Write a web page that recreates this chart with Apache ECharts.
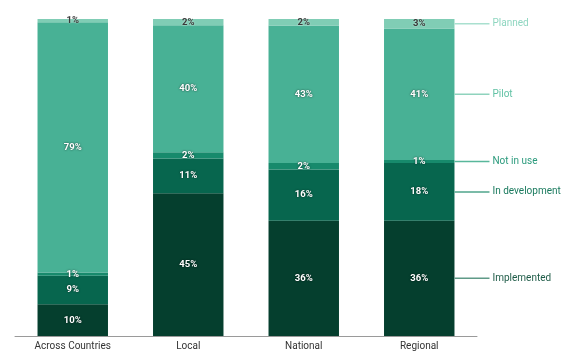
<!DOCTYPE html>
<html>
<head>
<meta charset="utf-8">
<script src="https://cdn.jsdelivr.net/npm/echarts@6/dist/echarts.min.js"></script>
<style>
html,body{margin:0;padding:0;background:#fff;}
#chart{width:564px;height:362px;}
</style>
</head>
<body>
<div id="chart"></div>
<script>
const categories = ['Across Countries', 'Local', 'National', 'Regional'];
const seriesNames = ['Implemented', 'In development', 'Not in use', 'Pilot', 'Planned'];
const implemented = [10, 45, 36, 36];
const inDevelopment = [9, 11, 16, 18];
const notInUse = [1, 2, 2, 1];
const pilot = [79, 40, 43, 41];
const planned = [1, 2, 2, 3];

const raw = [implemented, inDevelopment, notInUse, pilot, planned];
const colors = ['#053f2e', '#07664e', '#178a6c', '#48b195', '#80cdb5'];
const textColors = ['#1f5c48', '#1a7a5e', '#2a9a7c', '#62c2a5', '#8fd6c0'];
const lineColors = ['#5f9a87', '#4fa58b', '#58b79b', '#8fd3bd', '#a9e0cf'];

const totals = categories.map((c, i) => raw.reduce((s, arr) => s + arr[i], 0));
const norm = raw.map(arr => arr.map((v, i) => v / totals[i] * 100));

const series = [];
raw.forEach((arr, k) => {
  series.push({
    name: seriesNames[k],
    type: 'bar',
    stack: 'main',
    barWidth: '61%',
    data: norm[k],
    itemStyle: { color: colors[k] },
    label: {
      show: true,
      position: 'inside',
      formatter: p => arr[p.dataIndex] + '%',
      fontFamily: 'Roboto',
      fontSize: 9.5,
      fontWeight: 'bold',
      color: k === 4 ? '#3a3a3a' : '#ffffff',
      textShadowColor: k === 4 ? 'rgba(255,255,255,0.6)' : 'rgba(0,0,0,0.7)',
      textShadowBlur: 2
    }
  });
});
const last = categories.length - 1;
raw.forEach((arr, k) => {
  series.push({
    name: seriesNames[k] + ' label',
    type: 'bar',
    stack: 'lbl',
    barGap: '-100%',
    barWidth: '61%',
    silent: true,
    data: norm[k].map((v, i) => i === last ? v : null),
    itemStyle: { color: 'rgba(0,0,0,0)' },
    label: {
      show: true,
      position: 'right',
      distance: 0,
      formatter: '{l|}{t|' + seriesNames[k] + '}',
      rich: {
        l: { width: 35, height: 1.5, backgroundColor: lineColors[k], verticalAlign: 'middle' },
        t: { color: textColors[k], fontFamily: 'Roboto', fontSize: 10, padding: [0, 0, 0, 3], verticalAlign: 'middle' }
      }
    }
  });
});

const chart = echarts.init(document.getElementById('chart'), null, { renderer: 'canvas' });
chart.setOption({
  animation: false,
  grid: { left: 15, right: 87, top: 19, bottom: 26, containLabel: false },
  xAxis: {
    type: 'category',
    data: categories,
    axisLine: { lineStyle: { color: '#9a9a9a', width: 1 } },
    axisTick: { show: false },
    axisLabel: { color: '#333', fontFamily: 'Roboto', fontSize: 10, margin: 5 }
  },
  yAxis: { type: 'value', min: 0, max: 100, show: false, splitLine: { show: false } },
  series: series
});
</script>
</body>
</html>
